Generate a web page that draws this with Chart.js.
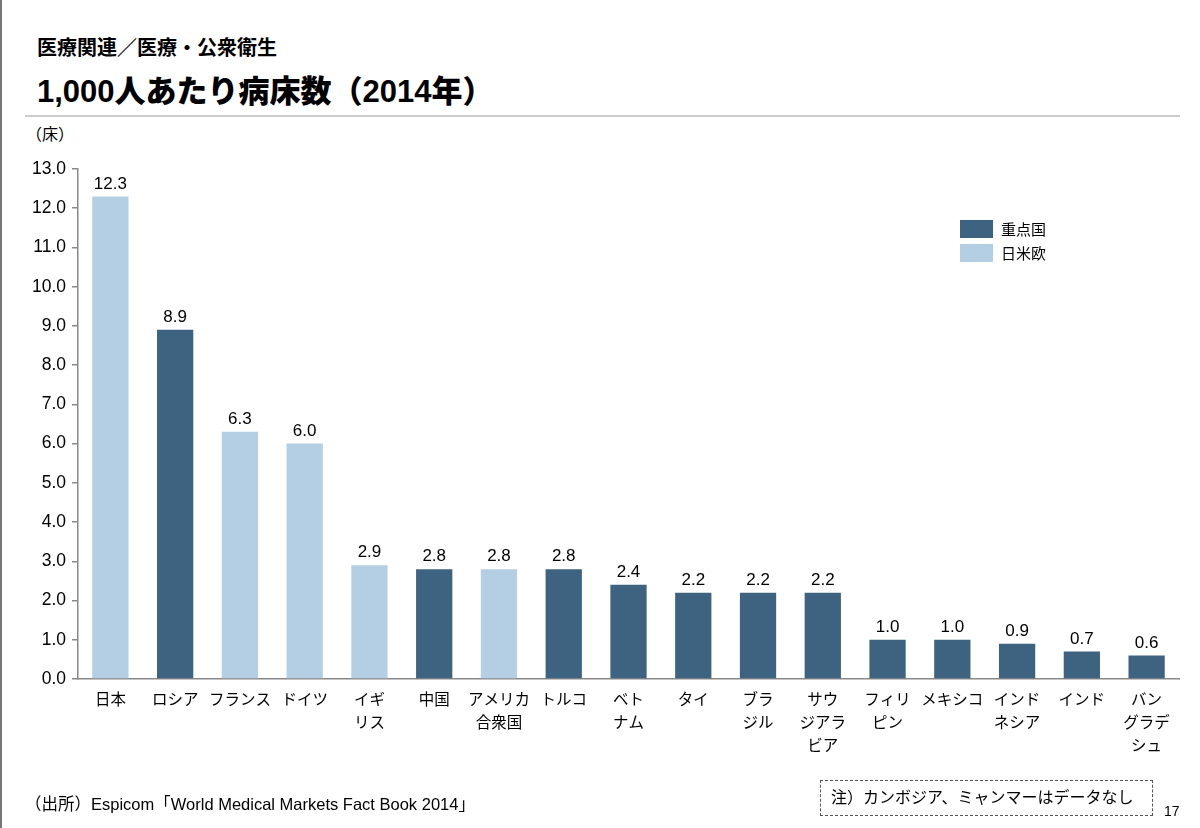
<!DOCTYPE html>
<html>
<head>
<meta charset="utf-8">
<script src="https://cdn.jsdelivr.net/npm/chart.js@4.4.1/dist/chart.umd.min.js"></script>
<style>
  body { margin: 0; background: #fff; }
  #page { position: relative; width: 1200px; height: 828px; overflow: hidden;
          font-family: 'Liberation Sans', 'Noto Sans CJK JP', sans-serif; color: #000; }
  #page:before { content: ''; position: absolute; left: 0; top: 0; width: 2px; height: 828px; background: #777; }
  #wrap { position: absolute; left: 0; top: 0; width: 1200px; height: 828px; }
  .t1 { position: absolute; left: 37px; top: 32px; font-size: 20px; font-weight: bold; }
  .t2 { position: absolute; left: 37px; top: 66px; font-size: 31px; font-weight: 900; }
  .rule { position: absolute; left: 25px; top: 115px; width: 1155px; height: 2px; background: #ccc; }
  .unit { position: absolute; left: 26px; top: 121px; font-size: 16px; }
  .src { position: absolute; left: 25px; top: 791px; font-size: 16.5px; }
  .note { position: absolute; left: 820px; top: 780px; width: 333px; height: 36px; border: 1.5px dashed #555;
          box-sizing: border-box; font-size: 16px; line-height: 33px; padding-left: 10px; }
  .pg { position: absolute; left: 1164px; top: 803px; font-size: 14px; }
  #legend { position: absolute; left: 960px; top: 219px; font-size: 15px; }
  #legend div { display: flex; align-items: center; height: 19px; margin-bottom: 5px; }
  #legend span.box { display: inline-block; width: 33px; height: 18px; margin-right: 8px; }
</style>
</head>
<body>
<div id="page">
  <div class="t1">医療関連／医療・公衆衛生</div>
  <div class="t2">1,000人あたり病床数（2014年）</div>
  <div class="rule"></div>
  <div class="unit">（床）</div>
  <div id="wrap"><canvas id="myChart" width="1200" height="828"></canvas></div>
  <div id="legend"></div>
  <div class="src">（出所）Espicom「World Medical Markets Fact Book 2014」</div>
  <div class="note">注）カンボジア、ミャンマーはデータなし</div>
  <div class="pg">17</div>
</div>
<script>
const categories = [
    '日本', 'ロシア', 'フランス', 'ドイツ', ['イギ', 'リス'], '中国', ['アメリカ', '合衆国'], 'トルコ',
    ['ベト', 'ナム'], 'タイ', ['ブラ', 'ジル'], ['サウ', 'ジアラ', 'ビア'], ['フィリ', 'ピン'], 'メキシコ',
    ['インド', 'ネシア'], 'インド', ['バン', 'グラデ', 'シュ'],
];
const beds = [12.3, 8.9, 6.3, 6.0, 2.9, 2.8, 2.8, 2.8, 2.4, 2.2, 2.2, 2.2, 1.0, 1.0, 0.9, 0.7, 0.6];
const region = ['w', 'f', 'w', 'w', 'w', 'f', 'w', 'f', 'f', 'f', 'f', 'f', 'f', 'f', 'f', 'f', 'f'];
const y_ticks = [0, 1, 2, 3, 4, 5, 6, 7, 8, 9, 10, 11, 12, 13];

const series = [
    { key: 'f', label: '重点国', color: '#3e6380' },
    { key: 'w', label: '日米欧', color: '#b4cfe3' },
];

const font = "'Liberation Sans', 'Noto Sans CJK JP', sans-serif";

// value labels above bars
const valueLabels = {
    id: 'valueLabels',
    afterDatasetsDraw(chart) {
        const ctx = chart.ctx;
        ctx.save();
        ctx.font = '17px ' + font;
        ctx.fillStyle = '#000';
        ctx.textAlign = 'center';
        ctx.textBaseline = 'bottom';
        chart.data.datasets.forEach((ds, i) => {
            chart.getDatasetMeta(i).data.forEach((bar, j) => {
                if (ds.data[j] == null) return;
                ctx.fillText(ds.data[j].toFixed(1), bar.x, bar.y - 4);
            });
        });
        ctx.restore();
    }
};

const myChart = new Chart('myChart', {
    type: 'bar',
    data: {
        labels: categories,
        datasets: series.map(s => ({
            label: s.label,
            data: beds.map((v, i) => region[i] === s.key ? v : null),
            backgroundColor: s.color,
            grouped: false,
            barPercentage: 0.56,
            categoryPercentage: 1.0,
        })),
    },
    options: {
        responsive: false,
        animation: false,
        layout: { padding: { top: 169, right: 21, left: 0, bottom: 0 } },
        plugins: {
            legend: { display: false },
            tooltip: { enabled: false },
        },
        scales: {
            x: {
                grid: { drawOnChartArea: false, drawTicks: false },
                border: { display: true, color: '#888', width: 1.5 },
                ticks: {
                    color: '#000',
                    font: { size: 15.5, family: font, lineHeight: 1.5 },
                    padding: 10,
                    maxRotation: 0,
                    autoSkip: false,
                },
                afterFit(scale) { scale.height = 149; },
            },
            y: {
                min: 0,
                max: 13,
                afterBuildTicks(scale) { scale.ticks = y_ticks.map(v => ({ value: v })); },
                grid: { drawOnChartArea: false, drawTicks: true, tickLength: 6, color: '#888', lineWidth: 1.5 },
                border: { display: true, color: '#888', width: 1.5 },
                ticks: {
                    color: '#000',
                    font: { size: 17.5, family: font },
                    padding: 6,
                    callback: v => Number(v).toFixed(1),
                },
                afterFit(scale) { scale.width = 78; },
            },
        },
    },
    plugins: [valueLabels],
});

// legend from the datasets
const legend = document.getElementById('legend');
myChart.data.datasets.forEach(ds => {
    const row = document.createElement('div');
    row.innerHTML = '<span class="box" style="background:' + ds.backgroundColor + '"></span>' + ds.label;
    legend.appendChild(row);
});
</script>
</body>
</html>
